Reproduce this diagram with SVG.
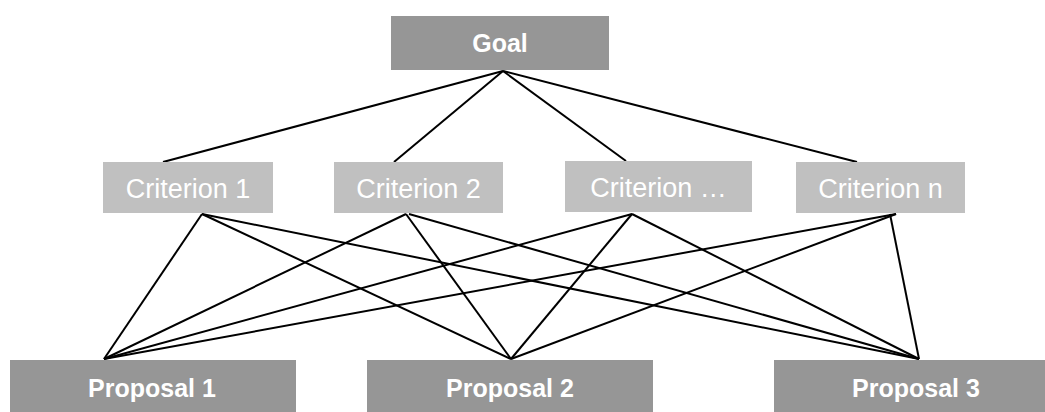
<svg xmlns="http://www.w3.org/2000/svg" width="1045" height="412" viewBox="0 0 1045 412">
<style>
.dark{fill:#969696}
.light{fill:#c0c0c0}
.tb{font-family:"Liberation Sans",Arial,sans-serif;font-weight:bold;font-size:25px;fill:#ffffff;text-anchor:middle}
.tn{font-family:"Liberation Sans",Arial,sans-serif;font-size:27px;fill:#ffffff;text-anchor:middle}
.ln{stroke:#000;stroke-width:2;fill:none}
</style>
<rect width="1045" height="412" fill="#fff"/>
<g id="connectors" class="ln">
<line x1="503" y1="71" x2="163" y2="162"/>
<line x1="503" y1="71" x2="394" y2="162"/>
<line x1="503" y1="71" x2="626" y2="161"/>
<line x1="503" y1="71" x2="857" y2="162"/>
<line x1="202" y1="214" x2="104" y2="359"/>
<line x1="202" y1="214" x2="511" y2="359"/>
<line x1="202" y1="214" x2="919" y2="359"/>
<line x1="406" y1="214" x2="104" y2="359"/>
<line x1="406" y1="214" x2="511" y2="359"/>
<line x1="409" y1="214" x2="919" y2="359"/>
<line x1="632" y1="214" x2="104" y2="359"/>
<line x1="632" y1="214" x2="511" y2="359"/>
<line x1="632" y1="214" x2="919" y2="359"/>
<line x1="896" y1="214" x2="104" y2="359"/>
<line x1="896" y1="214" x2="511" y2="359"/>
<line x1="890" y1="214" x2="919" y2="359"/>
</g>
<g id="goal"><rect class="dark" x="391" y="16" width="218" height="54"/><text class="tb" x="500" y="52">Goal</text></g>
<g id="criterion1"><rect class="light" x="103" y="162" width="170" height="51"/><text class="tn" x="188" y="198">Criterion 1</text></g>
<g id="criterion2"><rect class="light" x="334" y="162" width="169" height="51"/><text class="tn" x="418.5" y="198">Criterion 2</text></g>
<g id="criterion3"><rect class="light" x="565" y="161" width="187" height="51"/><text class="tn" x="658.5" y="197">Criterion …</text></g>
<g id="criterionn"><rect class="light" x="796" y="162" width="169" height="51"/><text class="tn" x="880.5" y="198">Criterion n</text></g>
<g id="proposal1"><rect class="dark" x="10" y="360" width="286" height="60"/><text class="tb" x="152" y="397">Proposal 1</text></g>
<g id="proposal2"><rect class="dark" x="367" y="360" width="286" height="60"/><text class="tb" x="510" y="397">Proposal 2</text></g>
<g id="proposal3"><rect class="dark" x="774" y="360" width="286" height="60"/><text class="tb" x="916" y="397">Proposal 3</text></g>
</svg>
